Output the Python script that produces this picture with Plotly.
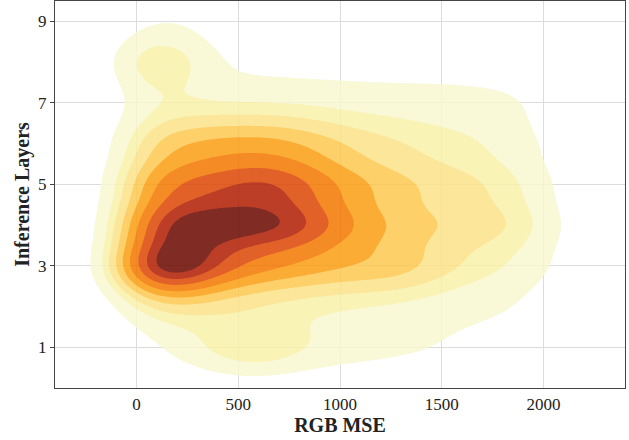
import numpy as np
import plotly.graph_objects as go

# ---- data: counts per RGB-MSE bin for each inference-layer value ----
x_bins = [50, 150, 250, 350, 450, 550, 650, 750, 850, 950,
          1050, 1150, 1250, 1350, 1450, 1550, 1650, 1750, 1850, 1950, 2050]
layers = [1, 2, 3, 4, 5, 6, 7, 8, 9]

layer_1 = [0.04, 0.06, 0.10, 0.14, 0.21, 0.29, 0.27, 0.17, 0.13, 0.12,
           0.11, 0.10, 0.09, 0.08, 0.07, 0.06, 0.05, 0.03, 0.02, 0.01, 0.00]
layer_2 = [0.20, 0.22, 0.20, 0.18, 0.17, 0.16, 0.15, 0.14, 0.13, 0.13,
           0.12, 0.12, 0.11, 0.10, 0.10, 0.09, 0.09, 0.08, 0.07, 0.05, 0.02]
layer_3 = [1.35, 1.35, 1.05, 0.78, 0.62, 0.54, 0.50, 0.46, 0.43, 0.40,
           0.36, 0.38, 0.40, 0.34, 0.25, 0.21, 0.17, 0.15, 0.14, 0.11, 0.05]
layer_4 = [0.85, 0.95, 1.00, 1.00, 0.98, 0.96, 0.95, 0.93, 0.80, 0.60,
           0.47, 0.40, 0.35, 0.31, 0.29, 0.27, 0.26, 0.25, 0.23, 0.17, 0.07]
layer_5 = [0.58, 0.62, 0.62, 0.65, 0.72, 0.80, 0.82, 0.76, 0.60, 0.48,
           0.41, 0.37, 0.33, 0.29, 0.26, 0.24, 0.22, 0.20, 0.17, 0.12, 0.04]
layer_6 = [0.34, 0.36, 0.38, 0.40, 0.42, 0.43, 0.42, 0.40, 0.35, 0.30,
           0.26, 0.23, 0.21, 0.19, 0.17, 0.16, 0.15, 0.13, 0.11, 0.08, 0.03]
layer_7 = [0.17, 0.13, 0.12, 0.12, 0.12, 0.12, 0.12, 0.12, 0.12, 0.11,
           0.11, 0.11, 0.11, 0.11, 0.11, 0.11, 0.11, 0.10, 0.10, 0.06, 0.01]
layer_8 = [0.40, 0.30, 0.13, 0.06, 0.04, 0.04, 0.04, 0.04, 0.03, 0.03,
           0.03, 0.03, 0.02, 0.02, 0.02, 0.02, 0.01, 0.01, 0.00, 0.00, 0.00]
layer_9 = [0.06, 0.08, 0.06, 0.03, 0.01, 0.00, 0.00, 0.00, 0.00, 0.00,
           0.00, 0.00, 0.00, 0.00, 0.00, 0.00, 0.00, 0.00, 0.00, 0.00, 0.00]

x_ticks = [0, 500, 1000, 1500, 2000]
y_ticks = [1, 3, 5, 7, 9]

# KDE settings (kernel widths) and iso-proportion levels
bw_x = 145.0
bw_y = 0.50
n_levels = 10
thresh = 0.05

band_colors = ["#f8f7d1", "#f9f1aa", "#fbe289", "#fdc850", "#fa9e11",
               "#f37700", "#dd4604", "#b11d01", "#6a0800"]
fill_opacity = 0.85

# ---- kernel density on a grid ----
W = np.array([layer_1, layer_2, layer_3, layer_4, layer_5, layer_6,
              layer_7, layer_8, layer_9])
xb = np.array(x_bins, dtype=float)
ly = np.array(layers, dtype=float)
gx = np.linspace(-400, 2400, 351)
gy = np.linspace(0, 9.5, 239)
Kx = np.exp(-0.5 * ((gx[None, :] - xb[:, None]) / bw_x) ** 2)
Ky = np.exp(-0.5 * ((gy[None, :] - ly[:, None]) / bw_y) ** 2)
F = Ky.T @ W @ Kx

flat = F.ravel()
order = np.argsort(flat)
cum = np.cumsum(flat[order]) / flat.sum()
Q = np.empty_like(flat)
Q[order] = cum
Q = Q.reshape(F.shape)

step = (1 - thresh) / (n_levels - 1)
zmin = thresh - step
zmax = thresh + (n_levels - 1) * step
seg_colors = ["rgba(255,255,255,0)"] + band_colors
nseg = len(seg_colors)
colorscale = []
for i, c in enumerate(seg_colors):
    colorscale.append([i / nseg, c])
    colorscale.append([(i + 1) / nseg, c])

fig = go.Figure(go.Contour(
    x=gx, y=gy, z=Q,
    autocontour=False,
    contours=dict(start=thresh, end=thresh + (n_levels - 2) * step + 1e-9,
                  size=step, coloring="fill", showlines=False),
    line=dict(width=0),
    colorscale=colorscale, zmin=zmin, zmax=zmax,
    showscale=False, opacity=fill_opacity, hoverinfo="skip",
))

font_family = "Liberation Serif"
fig.update_layout(
    width=629, height=440,
    margin=dict(l=55, r=4, t=1, b=52),
    paper_bgcolor="white", plot_bgcolor="white",
    font=dict(family=font_family, size=17, color="#222222"),
    showlegend=False,
)
fig.update_xaxes(
    range=[-400, 2400], tickvals=x_ticks, ticks="", automargin=False,
    showgrid=True, gridcolor="#dcdcdc", gridwidth=1, zeroline=False,
    showline=True, linecolor="#444444", linewidth=1.2, mirror=True,
    title=dict(text="<b>RGB MSE</b>", font=dict(size=20), standoff=2),
    tickfont=dict(size=17),
)
fig.update_yaxes(
    range=[0, 9.5], tickvals=y_ticks, ticks="outside", ticklen=4,
    tickcolor="#444444", tickwidth=1, automargin=False,
    showgrid=True, gridcolor="#dcdcdc", gridwidth=1, zeroline=False,
    showline=True, linecolor="#444444", linewidth=1.2, mirror=True,
    title=dict(text="<b>Inference Layers</b>", font=dict(size=20), standoff=3),
    tickfont=dict(size=17),
)
fig.write_html("out.html", config={"displayModeBar": False},
               post_script="document.body.style.margin='0px';")
